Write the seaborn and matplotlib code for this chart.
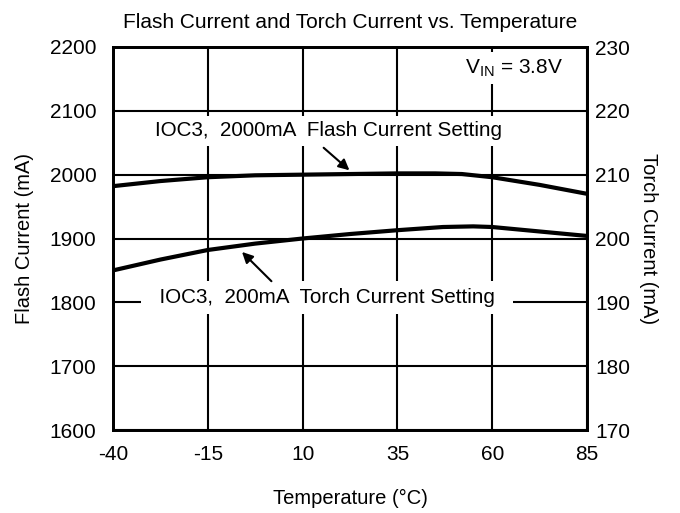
import matplotlib
matplotlib.use("Agg")
import matplotlib.pyplot as plt
import seaborn as sns
import pandas as pd

temps_flash = [-40, -27.5, -15, -2.5, 10, 22.5, 35, 45, 52, 60, 72.5, 85]
flash_ma = [1982, 1990, 1996, 1999, 2000, 2001, 2002, 2002, 2001, 1996, 1984, 1970]
temps_torch = [-40, -27.5, -15, -2.5, 10, 22.5, 35, 47, 55, 60, 72.5, 85]
torch_ma = [195.0, 196.7, 198.2, 199.2, 200.0, 200.7, 201.3, 201.8, 201.9, 201.8, 201.1, 200.4]
x_ticks = [-40, -15, 10, 35, 60, 85]
left_ticks = [1600, 1700, 1800, 1900, 2000, 2100, 2200]
right_ticks = [170, 180, 190, 200, 210, 220, 230]

sns.set_theme(style="white")
plt.rcParams['font.family'] = ['Liberation Sans', 'DejaVu Sans']
plt.rcParams['mathtext.fontset'] = 'custom'
plt.rcParams['mathtext.rm'] = 'Liberation Sans'
plt.rcParams['axes.unicode_minus'] = False
plt.rcParams['text.color'] = 'black'
plt.rcParams['axes.labelcolor'] = 'black'

fig = plt.figure(figsize=(6.8, 5.13), dpi=100)
ax = fig.add_axes([113/680, 1-430/513, (587-113)/680, (430-47)/513])
ax2 = ax.twinx()

df_f = pd.DataFrame({"T": temps_flash, "I": flash_ma})
df_t = pd.DataFrame({"T": temps_torch, "I": torch_ma})
sns.lineplot(data=df_f, x="T", y="I", ax=ax, color="black", lw=3, zorder=5)
sns.lineplot(data=df_t, x="T", y="I", ax=ax2, color="black", lw=3, zorder=5)

ax.set_xlim(-40, 85)
ax.set_ylim(1600, 2200)
ax2.set_ylim(170, 230)
ax.set_xticks(x_ticks)
ax.set_yticks(left_ticks)
ax2.set_yticks(right_ticks)
ax.tick_params(axis="x", labelsize=15, length=0, pad=11, colors="black")
ax.tick_params(axis="y", labelsize=15, length=0, pad=12, colors="black")
ax2.tick_params(labelsize=15, length=0, pad=6, colors="black")
ax.grid(True, color="black", lw=1.5)
ax.set_axisbelow(True)
for a in (ax, ax2):
    for s in a.spines.values():
        s.set_color("black")
        s.set_linewidth(2)

ax.set_xlabel("Temperature (°C)", fontsize=14.5, labelpad=18)
ax.set_ylabel("Flash Current (mA)", fontsize=14.5, labelpad=11)
ax2.set_ylabel("Torch Current (mA)", fontsize=14.5, rotation=-90, labelpad=20)
ax.set_title("Flash Current and Torch Current vs. Temperature", fontsize=15, pad=14)

ax.text(16.7, 2069, "IOC3,  2000mA  Flash Current Setting", fontsize=14.9, ha="center",
        va="center", bbox=dict(facecolor="white", edgecolor="none", pad=4), zorder=6)
ax.text(16.4, 1808, "  IOC3,  200mA  Torch Current Setting  ", fontsize=14.9, ha="center",
        va="center", bbox=dict(facecolor="white", edgecolor="none", pad=5), zorder=6)
ax.text(65.7, 2167, r"V$_{\mathrm{IN}}$ = 3.8V", fontsize=15, ha="center", va="center",
        bbox=dict(facecolor="white", edgecolor="none", pad=4), zorder=6)

ax.annotate("", xy=(22.9, 2004), xytext=(15.0, 2045),
            arrowprops=dict(arrowstyle="-|>", color="black", lw=1.5, mutation_scale=16), zorder=7)
ax.annotate("", xy=(-6.5, 1882), xytext=(2.3, 1830),
            arrowprops=dict(arrowstyle="-|>", color="black", lw=1.5, mutation_scale=16), zorder=7)

fig.savefig("out.png", dpi=100)
